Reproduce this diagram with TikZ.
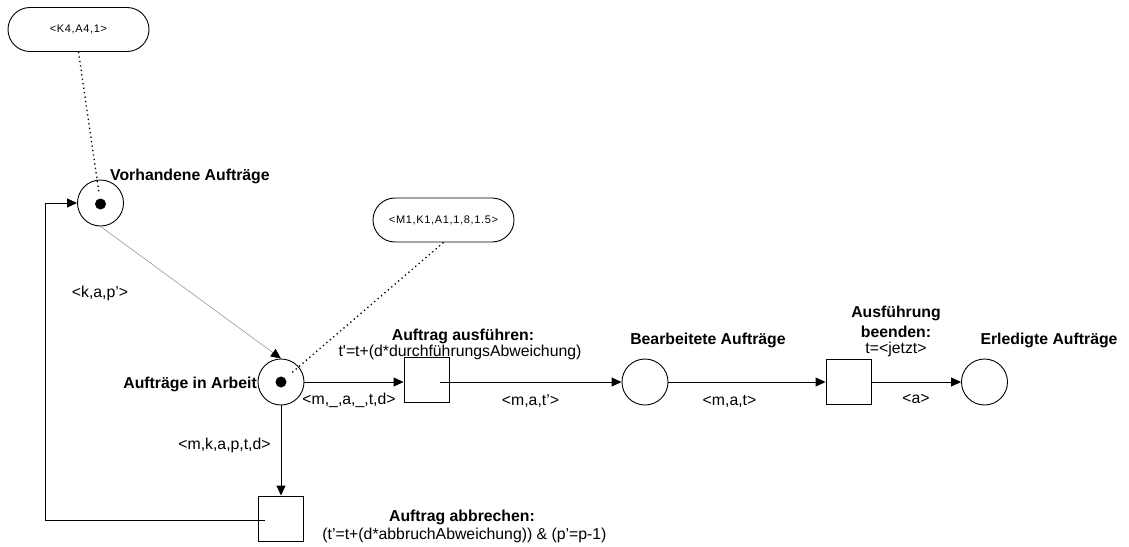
\documentclass[tikz,border=0pt]{standalone}
\usepackage{fontspec}
\setmainfont{Liberation Sans}
\newfontfamily\pillfamily[LetterSpace=6]{Liberation Sans}
\usetikzlibrary{arrows.meta,calc}
\newcommand\lblsize{\fontsize{15.8}{18}\selectfont}
\tikzset{
  place/.style={circle,draw,line width=0.9pt,minimum size=46pt,inner sep=0pt},
  trans/.style={rectangle,draw,line width=0.9pt,minimum size=45pt,inner sep=0pt},
  token/.style={circle,fill=black,minimum size=11pt,inner sep=0pt},
  pill/.style={rectangle,draw,line width=0.9pt,rounded corners=22pt,minimum width=141pt,minimum height=44pt,inner sep=0pt,font=\pillfamily\fontsize{11}{13}\selectfont},
  lbl/.style={inner sep=0pt,font=\lblsize},
  blbl/.style={inner sep=0pt,font=\lblsize\bfseries},
  arc/.style={line width=0.9pt,-{Triangle[length=10pt,width=9pt]}},
  garc/.style={line width=0.6pt,draw=black!40,-{Triangle[length=10pt,width=9pt,fill=black,color=black]}},
  dotline/.style={line width=1.3pt,dash pattern=on 1.3pt off 3.2pt},
}
\begin{document}
\begin{tikzpicture}[x=1pt,y=-1pt]
\useasboundingbox (0,0) rectangle (1129,546);
% token pills
\node[pill] (k1) at (78.5,29.5) {<K4,A4,1>};
\node[pill] (k2) at (443.5,220) {<M1,K1,A1,1,8,1.5>};
% places
\node[place] (v) at (100.5,203) {};
\node[place] (a) at (281,382) {};
\node[place] (b) at (645,382) {};
\node[place] (e) at (984.5,382) {};
% transitions
\node[trans] (t1) at (426.5,380) {};
\node[trans] (t2) at (848.5,382) {};
\node[trans] (t3) at (281,518.5) {};
% dotted token links
\draw[dotline] (k1.south) -- ($(v.center)!10pt!(k1.south)$);
\draw[dotline] (k2.south) -- ($(a.center)!12pt!(k2.south)$);
% tokens
\node[token] (tv) at (100.5,204) {};
\node[token] (ta) at (281,382) {};
% arcs
\draw[garc] (v.south) -- (a.north);
\draw[arc] (a.east) -- (a.east -| t1.west);
\coordinate (t1out) at ($(t1.center)+(13.5,2)$);
\draw[arc] (t1out) -- (b.west);
\draw[arc] (b.east) -- (t2.west);
\draw[arc] (t2.east) -- (e.west);
\draw[arc] (a.south) -- (t3.north);
\coordinate (t3out) at ($(t3.center)+(-16,1.5)$);
\coordinate (corner) at (45,520);
\draw[arc] (t3out) -- (corner) |- (v.west);
% labels
\node[blbl,anchor=base west] (lv) at (110,180) {Vorhandene Aufträge};
\node[lbl,anchor=base] (lkap) at (100,297) {<k,a,p’>};
\node[blbl,anchor=base east] (la) at (257,388) {Aufträge in Arbeit};
\node[lbl,anchor=base] (lm1) at (349,404) {<m,\_,a,\_,t,d>};
\node[blbl,anchor=base] (lt1a) at (463,340) {Auftrag ausführen:};
\node[lbl,anchor=base] (lt1b) at (460,356) {t\textquotesingle=t+(d*durchführungsAbweichung)};
\node[lbl,anchor=base] (lm2) at (530.5,405) {<m,a,t’>};
\node[blbl,anchor=base] (lb) at (708,344) {Bearbeitete Aufträge};
\node[lbl,anchor=base] (lm3) at (729.5,405) {<m,a,t>};
\node[blbl,anchor=base] (lt2a) at (896,317) {Ausführung};
\node[blbl,anchor=base] (lt2b) at (896,337) {beenden:};
\node[lbl,anchor=base] (lt2c) at (896,353) {t=<jetzt>};
\node[blbl,anchor=base] (le) at (1049,344) {Erledigte Aufträge};
\node[lbl,anchor=base] (lm4) at (916,403) {<a>};
\node[lbl,anchor=base] (lm5) at (224.5,449) {<m,k,a,p,t,d>};
\node[blbl,anchor=base] (lt3a) at (462,521) {Auftrag abbrechen:};
\node[lbl,anchor=base] (lt3b) at (464.5,539) {(t’=t+(d*abbruchAbweichung)) \& (p’=p-1)};
\end{tikzpicture}
\end{document}
